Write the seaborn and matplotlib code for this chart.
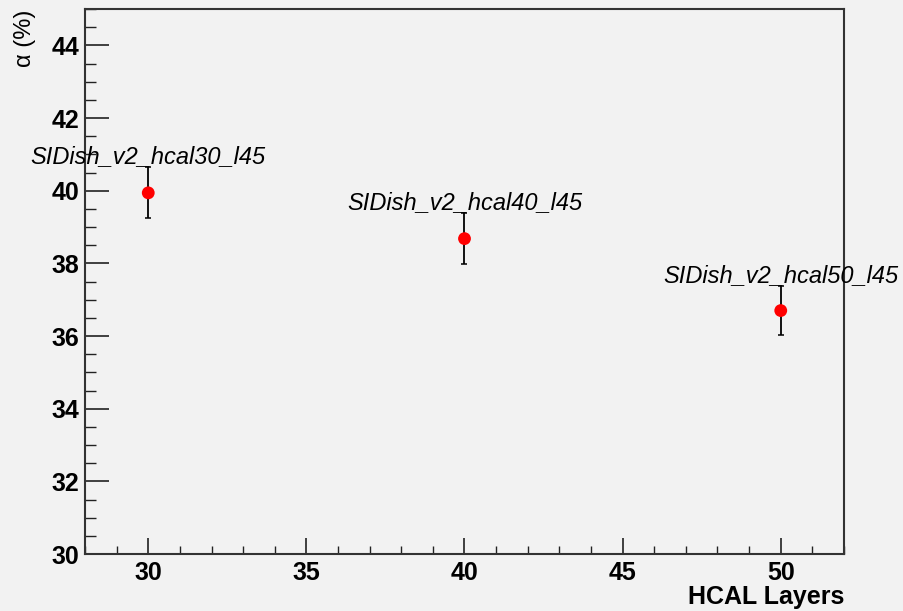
import matplotlib
matplotlib.use("Agg")
import matplotlib.pyplot as plt
from matplotlib.ticker import MultipleLocator
import seaborn as sns
import pandas as pd

# HCAL layer scan: fitted alpha (%) per detector configuration
layers = [30, 40, 50]
alpha_pct = [39.94, 38.68, 36.70]
alpha_err = [0.70, 0.70, 0.67]
configs = ["SIDish_v2_hcal30_l45", "SIDish_v2_hcal40_l45", "SIDish_v2_hcal50_l45"]

df = pd.DataFrame({"layers": layers, "alpha": alpha_pct, "err": alpha_err, "config": configs})

sns.set_theme(style="white")
plt.rcParams["font.family"] = ["Liberation Sans", "DejaVu Sans"]

bg = "#f2f2f2"
ink = "#000000"
fig = plt.figure(figsize=(9.04, 6.11), dpi=100, facecolor=bg)
ax = fig.add_axes([85 / 904, 1 - 554 / 611, (844 - 85) / 904, (554 - 9) / 611])
ax.set_facecolor(bg)

ax.errorbar(df["layers"], df["alpha"], yerr=df["err"], fmt="none",
            ecolor="black", elinewidth=1.3, capsize=2.5, capthick=1.1, zorder=2)
sns.scatterplot(data=df, x="layers", y="alpha", ax=ax, color="#ff0000",
                marker="o", s=85, edgecolor="none", zorder=3, legend=False)

for _, row in df.iterrows():
    ax.annotate(row["config"], xy=(row["layers"], row["alpha"] + row["err"]),
                xytext=(0, 3), textcoords="offset points", ha="center", va="baseline",
                fontsize=17, style="italic", color=ink, zorder=4,
                annotation_clip=False)

ax.set_xlim(28, 52)
ax.set_ylim(30, 45)
ax.xaxis.set_major_locator(MultipleLocator(5))
ax.xaxis.set_minor_locator(MultipleLocator(1))
ax.yaxis.set_major_locator(MultipleLocator(2))
ax.yaxis.set_minor_locator(MultipleLocator(0.5))

ax.tick_params(axis="x", which="major", direction="in", length=11.5, width=1.2,
               color="#222222", pad=5, labelsize=18, labelcolor=ink,
               bottom=True, top=False)
ax.tick_params(axis="x", which="minor", direction="in", length=5.8, width=1.0,
               color="#222222", bottom=True, top=False)
ax.tick_params(axis="y", which="major", direction="in", length=17, width=1.2,
               color="#222222", pad=4, labelsize=18, labelcolor=ink,
               left=True, right=False)
ax.tick_params(axis="y", which="minor", direction="in", length=8, width=1.0,
               color="#222222", left=True, right=False)
for lab in ax.get_xticklabels() + ax.get_yticklabels():
    lab.set_fontweight("bold")

for sp in ax.spines.values():
    sp.set_color("#333333")
    sp.set_linewidth(1.5)
    sp.set_visible(True)

ax.set_xlabel("")
ax.set_ylabel("")
fig.text(844 / 904, 1 - 597 / 611, "HCAL Layers", ha="right", va="center",
         fontsize=18, fontweight="bold", color=ink)
fig.text(25 / 904, 1 - 10 / 611, "α (%)", ha="center", va="top", rotation=90,
         fontsize=17, color=ink)

fig.savefig("out.png", dpi=100, facecolor=bg)
